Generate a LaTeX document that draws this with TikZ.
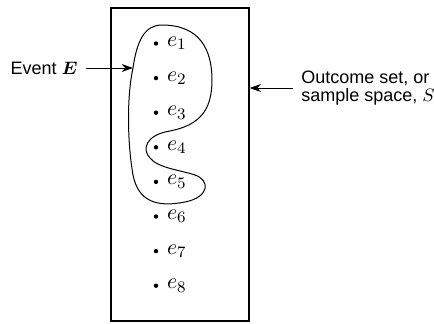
\documentclass[tikz,border=0pt]{standalone}
\usepackage{amsmath,amssymb}
\usepackage[no-math]{fontspec}
\newfontfamily\labelfont{Liberation Sans}
\usetikzlibrary{arrows.meta, positioning, fit}
\tikzset{
  space/.style   = {rectangle, draw, line width=0.65pt, inner sep=0pt},
  outcome/.style = {circle, fill, inner sep=0pt, minimum size=2.2pt},
  olabel/.style  = {inner sep=0pt, font=\fontsize{11}{13}\selectfont},
  tag/.style     = {align=left, font=\labelfont\fontsize{9}{8.6}\selectfont},
  region/.style  = {line width=0.5pt},
  flow/.style    = {-{Stealth[length=2mm, width=1.4mm]}, line width=0.5pt},
}

\begin{document}
\begin{tikzpicture}[x=0.5pt, y=-0.5pt]
  \useasboundingbox (0,0) rectangle (434,323);
  \node[space, fit={(111,8) (249,321)}] (S) {};

  % outcomes e1 ... e8
  \foreach \i in {1,...,8} {
    \node[outcome] (d\i) at (156,{43.5+34.6*(\i-1)}) {};
    \node[olabel, right=4pt of d\i] (e\i) {$e_{\i}$};
  }

  % the event E
  \draw[region] (162,25) .. controls (200,25) and (212,50) .. (212,80)
    .. controls (212,110) and (200,125) .. (170,131)
    .. controls (145,135) and (142,150) .. (150,158)
    .. controls (158,168) and (180,170) .. (195,175)
    .. controls (210,180) and (210,197) .. (185,202)
    .. controls (155,208) and (138,200) .. (133,175)
    .. controls (127,140) and (127,95) .. (133,68)
    .. controls (137,40) and (145,25) .. (162,25) -- cycle;
  \coordinate (Eedge) at (133,68);

  \node[tag, anchor=east, inner sep=4pt] (event) at (86,68) {Event $\boldsymbol{E}$};
  \node[tag, anchor=west, inner sep=4pt] (sspace) at (293,88)
    {Outcome set, or\\sample space, $S$};

  \draw[flow] (event.east) -- (Eedge);
  \draw[flow] (sspace.west) -- (S.east |- sspace.west);
\end{tikzpicture}
\end{document}
